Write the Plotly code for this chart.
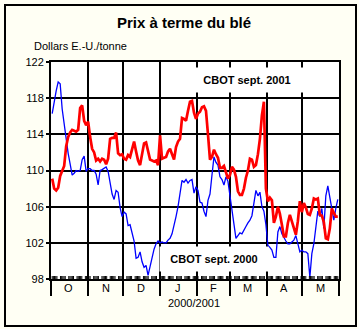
import pandas as pd
import plotly.graph_objects as go

# ---------------- data ----------------
start_date = "2000-10-02"
end_date = "2001-05-31"

sept2000 = [
    116.3, 117.8, 118.8, 119.8, 119.6, 116.8, 115.0, 113.3, 111.9, 110.7,
    109.5, 109.7, 110.0, 109.9, 110.0, 111.2, 111.6, 109.9, 110.2, 110.2,
    110.0, 110.0, 109.6, 108.4, 110.0, 110.1, 110.3, 110.4, 109.9, 108.4,
    107.4, 106.8, 107.8, 107.6, 105.9, 104.9, 105.4, 105.2,
    103.9, 104.0, 103.2, 102.2, 100.3, 100.4, 101.0, 99.9, 99.3, 99.5,
    98.4, 99.5, 100.6, 101.3, 101.9, 102.2, 102.0, 102.1, 102.0, 102.0,
    102.3, 102.5, 103.0, 103.8, 104.9, 106.0, 107.3, 108.9, 108.7, 109.0,
    108.6, 108.9, 109.0, 107.5, 108.2, 107.8,
    106.5, 106.4, 105.5, 104.9, 106.7, 107.4, 109.5, 111.5, 110.9, 110.6,
    109.3, 109.0, 108.4, 109.3, 108.8, 107.2, 105.8, 103.9, 102.5, 102.8,
    103.1, 103.0, 103.5, 103.8, 104.2, 104.5, 105.0, 106.4, 107.8, 107.2,
    107.6, 106.0, 105.5, 104.0, 101.7, 101.5,
    101.2, 100.4, 100.4, 103.2, 103.8, 103.0, 102.5, 102.2, 101.9, 101.9,
    102.1, 102.3, 102.8, 101.8, 101.0, 101.2, 101.0, 101.0, 100.8, 98.2,
    100.8, 101.9, 104.0, 105.5, 104.9, 105.8, 103.6, 107.2, 108.3, 107.0,
    106.2, 104.5, 105.8, 106.8,
]

sept2001 = [
    109.1, 108.0, 107.8, 108.1, 109.4, 109.9, 110.5, 112.7, 113.7, 114.2,
    114.5, 114.4, 114.3, 114.5, 116.9, 117.2, 115.5, 115.0, 115.4, 113.7,
    112.4, 112.0, 111.1, 111.3, 111.0, 111.3, 111.2, 110.7, 111.3, 113.5,
    113.6, 113.6, 114.2, 111.9, 111.7, 111.8, 111.3, 111.2,
    111.7, 111.5, 112.3, 113.2, 112.1, 111.1, 110.6, 111.8, 113.0, 113.1,
    112.2, 111.2, 111.1, 111.0, 111.1, 110.6, 113.9, 111.3, 111.4, 111.5,
    112.1, 112.4, 111.8, 111.2, 112.6, 113.2, 113.5, 115.8, 115.7, 115.5,
    116.6, 117.6, 117.7, 116.4, 115.7, 116.3,
    116.5, 117.0, 117.1, 116.6, 114.0, 111.2, 111.5, 112.3, 111.8, 111.4,
    110.3, 110.3, 110.5, 109.8, 109.1, 109.5, 110.4, 110.1, 109.3, 107.7,
    107.3, 107.3, 108.0, 109.2, 110.0, 111.3, 111.2, 110.4, 110.6, 111.8,
    113.5, 116.1, 117.6, 108.0, 106.6, 107.0,
    106.7, 104.2, 104.9, 106.0, 105.2, 104.0, 102.7, 102.7, 104.2, 105.1,
    104.4, 103.8, 102.9, 104.4, 106.6, 105.4, 106.4, 105.9, 105.2, 105.1,
    105.8, 106.9, 106.8, 106.9, 105.1, 105.0, 104.3, 102.5, 102.4, 103.6,
    105.8, 105.3, 104.9, 104.9,
]

month_labels = ["O", "N", "D", "J", "F", "M", "A", "M"]
month_mid = ["2000-10-16", "2000-11-16", "2000-12-16", "2001-01-16",
             "2001-02-15", "2001-03-16", "2001-04-16", "2001-05-16"]
month_starts = ["2000-10-01", "2000-11-01", "2000-12-01", "2001-01-01",
                "2001-02-01", "2001-03-01", "2001-04-01", "2001-05-01",
                "2001-06-01"]
y_ticks = [98, 102, 106, 110, 114, 118, 122]
y_min, y_max = 98, 122

dates = pd.date_range(start_date, end_date, periods=len(sept2000))
sessions = pd.bdate_range(start_date, end_date)
x_range = ["2000-10-01", "2001-06-01"]

# ---------------- geometry ----------------
W, H = 359, 329
L, R, T, B = 51, 20, 62, 50
PW, PH = W - L - R, H - T - B


def px_x(x):
    return (x - L) / PW


def px_y(y):
    return (H - B - y) / PH


FONT = "Liberation Sans, Arial, sans-serif"
BLACK = "black"

fig = go.Figure()
fig.add_trace(go.Scatter(x=dates, y=sept2000, mode="lines",
                         line=dict(color="#0000FF", width=1.3),
                         name="CBOT sept. 2000", hoverinfo="skip"))
fig.add_trace(go.Scatter(x=dates, y=sept2001, mode="lines",
                         line=dict(color="#FF0000", width=2.7),
                         name="CBOT sept. 2001", hoverinfo="skip"))

fig.update_layout(
    width=W, height=H, autosize=False,
    margin=dict(l=L, r=R, t=T, b=B, pad=0),
    paper_bgcolor="#FFFFF4", plot_bgcolor="white",
    showlegend=False,
    font=dict(family=FONT, size=11, color=BLACK),
    title=dict(text="<b>Prix à terme du blé</b>", x=184 / W, xref="container",
               xanchor="center", y=1 - 23 / H, yref="container",
               yanchor="middle", font=dict(size=15, family=FONT, color=BLACK)),
    xaxis=dict(
        type="date", range=x_range,
        tickmode="array", tickvals=month_starts,
        ticktext=[""] * len(month_starts),
        ticks="outside", ticklen=15, tickcolor=BLACK, tickwidth=2,
        showgrid=True, gridcolor=BLACK, gridwidth=2, zeroline=False,
        showline=True, mirror=True, linecolor=BLACK, linewidth=2,
    ),
    yaxis=dict(
        range=[y_min, y_max], tickmode="array", tickvals=y_ticks,
        ticks="outside", ticklen=3, tickcolor=BLACK, tickwidth=2,
        showgrid=True, gridcolor=BLACK, gridwidth=2, zeroline=False,
        showline=True, mirror=True, linecolor=BLACK, linewidth=2,
        tickfont=dict(size=11, family=FONT, color=BLACK),
    ),
)

# small session ticks inside the time axis
for d in sessions:
    fig.add_shape(type="line", xref="x", yref="paper", x0=d, x1=d,
                  y0=0, y1=px_y(279 - 3), line=dict(color=BLACK, width=1),
                  layer="above")

# outer frame
fig.add_shape(type="rect", xref="paper", yref="paper",
              x0=px_x(5), x1=px_x(356), y0=px_y(326), y1=px_y(5),
              line=dict(color=BLACK, width=2), fillcolor="rgba(0,0,0,0)",
              layer="above")

# month letters centred in each month
for lab, mid in zip(month_labels, month_mid):
    fig.add_annotation(text=lab, x=mid, xref="x", y=0, yref="paper",
                       yshift=-9, xanchor="center", yanchor="middle",
                       showarrow=False,
                       font=dict(size=11, family=FONT, color=BLACK))

fig.add_annotation(text="Dollars E.-U./tonne", xref="paper", yref="paper",
                   x=px_x(32), y=px_y(46), xanchor="left", yanchor="middle",
                   showarrow=False, font=dict(size=11, family=FONT, color=BLACK))
fig.add_annotation(text="<b>CBOT sept. 2001</b>", xref="paper", yref="paper",
                   x=px_x(247), y=px_y(80), xanchor="center", yanchor="middle",
                   width=112, height=24, bgcolor="white", borderpad=0,
                   showarrow=False, font=dict(size=11, family=FONT, color=BLACK))
fig.add_annotation(text="<b>CBOT sept. 2000</b>", xref="paper", yref="paper",
                   x=px_x(214), y=px_y(258.5), xanchor="center", yanchor="middle",
                   width=108, height=24, bgcolor="white", borderpad=0,
                   showarrow=False, font=dict(size=11, family=FONT, color=BLACK))
fig.add_annotation(text="2000/2001", xref="paper", yref="paper",
                   x=px_x(194), y=px_y(303), xanchor="center", yanchor="middle",
                   showarrow=False, font=dict(size=11, family=FONT, color=BLACK))

fig.write_html("out.html")
